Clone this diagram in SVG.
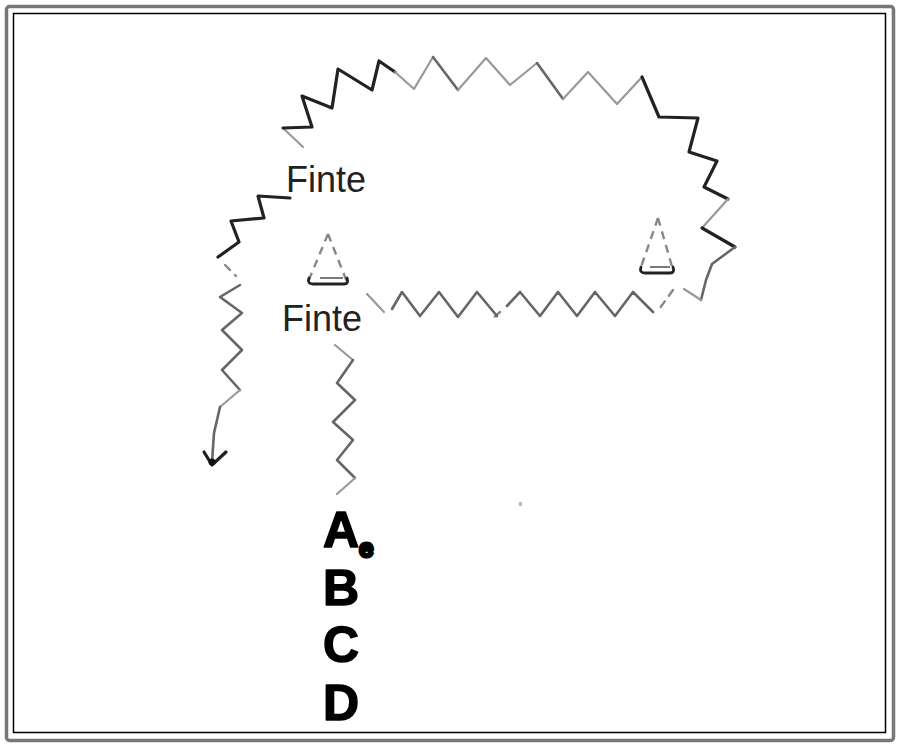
<svg xmlns="http://www.w3.org/2000/svg" width="900" height="747" viewBox="0 0 900 747">
<style>
.dark{fill:none;stroke:#222;stroke-width:3.2;stroke-linejoin:round;stroke-linecap:round}
.mid{fill:none;stroke:#666;stroke-width:2.6;stroke-linejoin:round;stroke-linecap:round}
.light{fill:none;stroke:#999;stroke-width:2.2;stroke-linejoin:round;stroke-linecap:round}
.dash{fill:none;stroke:#888;stroke-width:2.4;stroke-dasharray:7 7;stroke-linecap:round}
.lbl{font-family:"Liberation Sans",Arial,sans-serif;font-size:36px;fill:#222}
.big{font-family:"Liberation Sans",Arial,sans-serif;font-size:50px;font-weight:bold;fill:#000;stroke:#000;stroke-width:1.5;stroke-linejoin:round}
</style>
<rect width="900" height="747" fill="#fff"/>
<rect x="6.5" y="6.5" width="887" height="734" rx="3" fill="none" stroke="#777" stroke-width="3.5"/>
<rect x="13.5" y="13.5" width="872" height="719" fill="none" stroke="#000" stroke-width="1.5"/>
<g id="connectors">
<polyline class="light" points="303,147 283,128"/>
<polyline class="dark" points="283,128 312,127 302,96 332,108 338,69 372,90 379,61 395,72"/>
<polyline class="light" points="395,72 414,89 433,57"/>
<polyline class="mid" points="433,57 458,90"/>
<polyline class="light" points="458,90 486,58 510,85 537,63"/>
<polyline class="mid" points="537,63 563,99"/>
<polyline class="light" points="563,99 588,72 617,104 642,77"/>
<polyline class="dark" points="642,77 659,117 698,118 689,152 717,161 704,187 728,199"/>
<polyline class="light" points="728,199 702,228"/>
<polyline class="dark" points="702,228 735,247"/>
<polyline class="mid" points="735,247 712,264 706,280 701,300"/>
<polyline class="light" points="701,300 684,289"/>
<polyline class="dash" points="673,290 660,308"/>
<polyline class="mid" points="653,312 633,292 615,316 595,292 577,316 558,292 540,316 520,292 507,306"/>
<polyline class="dash" points="500,312 493,318"/>
<polyline class="mid" points="497,316 477,292 458,317 439,292 420,316 402,292 392,309"/>
<polyline class="light" points="384,312 367,294"/>
<polyline class="dark" points="290,198 258,196 264,218 231,221 239,242 218,257"/>
<polyline class="dash" points="225,265 236,276"/>
<polyline class="mid" points="240,285 220,297 242,313 222,330 242,350 222,370 240,390"/>
<polyline class="light" points="240,390 220,407"/>
<polyline class="mid" points="220,407 214,433 212,462"/>
<polyline class="dark" points="204,452 212,465 226,452"/>
<circle cx="212" cy="462" r="3.5" fill="#111"/>
<polyline class="light" points="335,345 353,360"/>
<polyline class="mid" points="353,360 337,383 355,400 333,422 353,440 337,460 355,478"/>
<polyline class="light" points="355,478 337,494"/>
</g>
<g id="cone1">
<path d="M328,234 L308,282 M328,234 L347,282" fill="none" stroke="#888" stroke-width="2.4" stroke-dasharray="8 6"/>
<path d="M309,278 Q307,284 313,284 L344,284 Q349,284 347,278" fill="none" stroke="#222" stroke-width="2.8" stroke-linecap="round"/>
<line x1="320" y1="278" x2="343" y2="278" stroke="#222" stroke-width="1.2"/>
</g>
<g id="cone2">
<path d="M658,218 L640,270 M658,218 L673,270" fill="none" stroke="#888" stroke-width="2.4" stroke-dasharray="8 6"/>
<path d="M641,267 Q639,273 645,273 L670,273 Q675,273 673,267" fill="none" stroke="#222" stroke-width="2.8" stroke-linecap="round"/>
<line x1="650" y1="267" x2="670" y2="267" stroke="#222" stroke-width="1.2"/>
</g>
<g id="finte1"><text class="lbl" x="286" y="192">Finte</text></g>
<g id="finte2"><text class="lbl" x="282" y="331">Finte</text></g>
<g id="letters">
<text class="big" x="323" y="547">A</text>
<text x="359" y="557" font-family="Liberation Sans,Arial,sans-serif" font-size="26" font-weight="bold" fill="#000" stroke="#000" stroke-width="3" stroke-linejoin="round">e</text>
<text class="big" x="323" y="605">B</text>
<text class="big" x="323" y="662">C</text>
<text class="big" x="323" y="720">D</text>
</g>
<rect x="519" y="502" width="3" height="4" fill="#bbb"/>
</svg>
